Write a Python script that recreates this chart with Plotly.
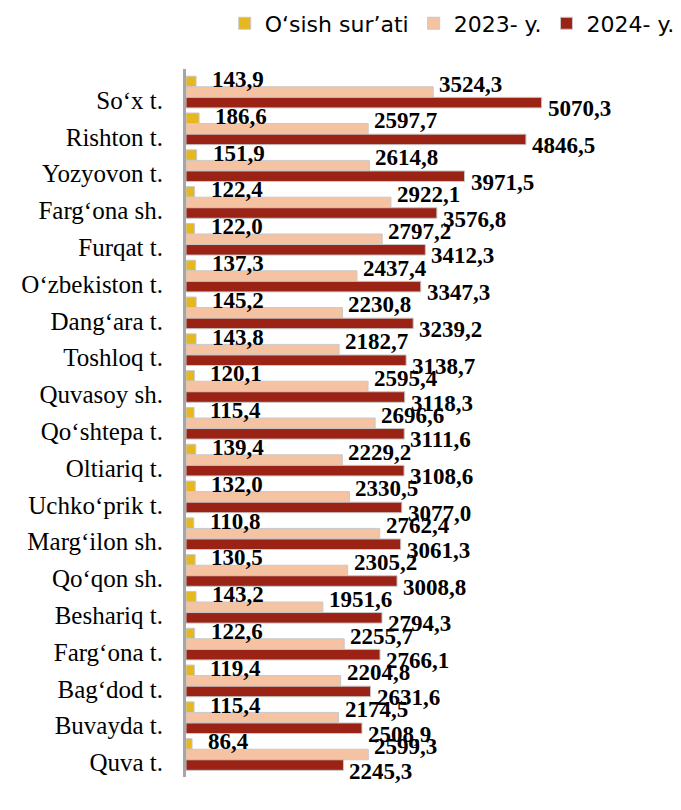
import plotly.graph_objects as go

# ─── Data ─────────────────────────────────────────────────────────────────────

districts = [
    "So‘x t.", "Rishton t.", "Yozyovon t.", "Farg‘ona sh.", "Furqat t.",
    "O‘zbekiston t.", "Dang‘ara t.", "Toshloq t.", "Quvasoy sh.", "Qo‘shtepa t.",
    "Oltiariq t.", "Uchko‘prik t.", "Marg‘ilon sh.", "Qo‘qon sh.", "Beshariq t.",
    "Farg‘ona t.", "Bag‘dod t.", "Buvayda t.", "Quva t.",
]

growth = [143.9, 186.6, 151.9, 122.4, 122.0, 137.3, 145.2, 143.8, 120.1, 115.4,
          139.4, 132.0, 110.8, 130.5, 143.2, 122.6, 119.4, 115.4, 86.4]

y2023 = [3524.3, 2597.7, 2614.8, 2922.1, 2797.2, 2437.4, 2230.8, 2182.7, 2595.4, 2696.6,
         2229.2, 2330.5, 2762.4, 2305.2, 1951.6, 2255.7, 2204.8, 2174.5, 2599.3]

y2024 = [5070.3, 4846.5, 3971.5, 3576.8, 3412.3, 3347.3, 3239.2, 3138.7, 3118.3, 3111.6,
         3108.6, 3077.0, 3061.3, 3008.8, 2794.3, 2766.1, 2631.6, 2508.9, 2245.3]

series = [
    ("O‘sish sur’ati", growth, "#E6B71E"),
    ("2023- y.", y2023, "#F6C3A2"),
    ("2024- y.", y2024, "#9A2315"),
]

BARGAP = 0.14
LABEL_FONT = dict(family="Liberation Serif", size=23, color="black", weight="bold")

# label nudges per series (xshift, yshift) – labels sit a bit off the bar ends
label_shift = [(14, 2), (4, 8), (4, -6)]


def fmt(v):
    return f"{v:.1f}".replace(".", ",")


# ─── Chart ────────────────────────────────────────────────────────────────────

fig = go.Figure()

bar_w = (1 - BARGAP) / len(series)

for k, (name, vals, color) in enumerate(series):
    fig.add_trace(go.Bar(
        y=districts,
        x=vals,
        name=name,
        orientation="h",
        marker=dict(color=color, line=dict(color="#C8C8C8", width=1)),
    ))
    offset = (k - 1) * bar_w
    xs, ys = label_shift[k]
    for i, v in enumerate(vals):
        fig.add_annotation(
            x=v, y=i + offset,
            xref="x", yref="y",
            text=fmt(v),
            showarrow=False,
            xanchor="left", yanchor="middle",
            xshift=xs, yshift=ys,
            font=LABEL_FONT,
        )

# page body adds an 8px margin, so the figure is sized to the visible area
fig.update_layout(
    width=673,
    height=802,
    barmode="group",
    bargap=BARGAP,
    bargroupgap=0,
    margin=dict(l=178, r=4, t=61, b=33, autoexpand=False),
    paper_bgcolor="white",
    plot_bgcolor="white",
    showlegend=True,
    legend=dict(
        orientation="h",
        xref="container", x=0.322, xanchor="left",
        yref="paper", y=1.094, yanchor="top",
        font=dict(family="DejaVu Sans", size=22, color="black"),
        itemwidth=30,
        tracegroupgap=0,
    ),
    xaxis=dict(
        range=[0, 7000],
        showgrid=False,
        zeroline=False,
        showticklabels=False,
        showline=False,
    ),
    yaxis=dict(
        autorange="reversed",
        automargin=False,
        showgrid=False,
        showline=True,
        linecolor="#A6A6A6",
        linewidth=3,
        ticks="",
        ticklabelstandoff=15,
        ticklabelshift=-8,
        tickfont=dict(family="Liberation Serif", size=25, color="black"),
    ),
)

fig.write_html("out.html")
